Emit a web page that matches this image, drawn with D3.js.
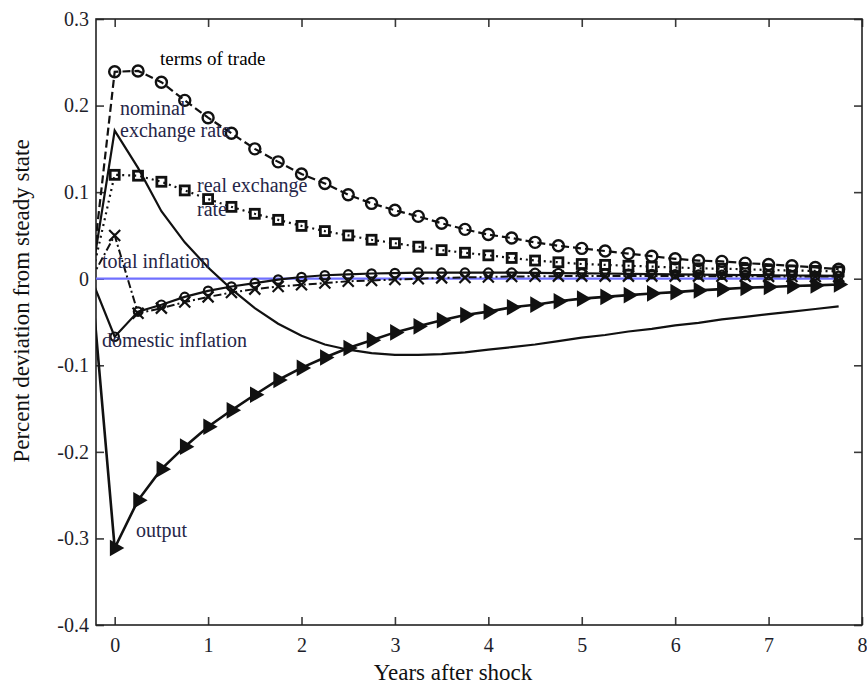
<!DOCTYPE html>
<html>
<head>
<meta charset="utf-8">
<script src="https://cdn.jsdelivr.net/npm/d3@7"></script>
<style>
  html, body { margin: 0; padding: 0; background: #fff; }
  svg { display: block; font-family: "Liberation Serif", "Times New Roman", serif; }
</style>
</head>
<body>
<svg id="chart" width="867" height="686"></svg>
<script>
// ---------------- data ----------------
const years = [-0.25, 0, 0.25, 0.5, 0.75, 1, 1.25, 1.5, 1.75, 2, 2.25, 2.5, 2.75, 3, 3.25, 3.5, 3.75,
  4, 4.25, 4.5, 4.75, 5, 5.25, 5.5, 5.75, 6, 6.25, 6.5, 6.75, 7, 7.25, 7.5, 7.75];

const termsOfTrade = [0, 0.239, 0.240, 0.227, 0.206, 0.186, 0.168, 0.150, 0.135, 0.121, 0.110, 0.097, 0.087,
  0.079, 0.072, 0.064, 0.057, 0.051, 0.047, 0.042, 0.038, 0.035, 0.032, 0.029, 0.026, 0.023, 0.021, 0.020,
  0.018, 0.0165, 0.015, 0.013, 0.011];

const realExchangeRate = [0, 0.120, 0.119, 0.112, 0.102, 0.092, 0.083, 0.075, 0.068, 0.061, 0.055, 0.050,
  0.045, 0.041, 0.037, 0.033, 0.030, 0.027, 0.024, 0.021, 0.019, 0.017, 0.016, 0.015, 0.014, 0.013, 0.012,
  0.0115, 0.011, 0.010, 0.0095, 0.009, 0.0085];

const nominalExchangeRate = [0, 0.171, 0.128, 0.078, 0.042, 0.013, -0.012, -0.034, -0.052, -0.066, -0.076,
  -0.082, -0.086, -0.088, -0.088, -0.087, -0.085, -0.082, -0.079, -0.076, -0.072, -0.068, -0.065, -0.061,
  -0.058, -0.054, -0.051, -0.047, -0.044, -0.041, -0.038, -0.035, -0.032];

const domesticInflation = [0, -0.067, -0.038, -0.030, -0.021, -0.014, -0.009, -0.005, -0.001, 0.002, 0.004,
  0.005, 0.006, 0.0065, 0.007, 0.007, 0.007, 0.007, 0.007, 0.0068, 0.0065, 0.0062, 0.006, 0.0057, 0.0054,
  0.0051, 0.0048, 0.0045, 0.0042, 0.004, 0.0037, 0.0035, 0.0033];

const totalInflation = [0, 0.050, -0.040, -0.034, -0.027, -0.021, -0.016, -0.012, -0.009, -0.007, -0.005,
  -0.003, -0.002, -0.001, 0.000, 0.001, 0.0015, 0.002, 0.0025, 0.0028, 0.003, 0.003, 0.003, 0.003, 0.003,
  0.003, 0.003, 0.0029, 0.0028, 0.0027, 0.0026, 0.0025, 0.0024];

const output = [0, -0.311, -0.256, -0.220, -0.194, -0.171, -0.152, -0.134, -0.117, -0.103, -0.091, -0.080,
  -0.071, -0.062, -0.055, -0.048, -0.042, -0.038, -0.033, -0.030, -0.026, -0.023, -0.021, -0.019, -0.017,
  -0.0155, -0.0135, -0.012, -0.0105, -0.0095, -0.0085, -0.0077, -0.0066];

const baseline = [0, 0];
const baselineYears = [-0.25, 7.75];

const xTickValues = [0, 1, 2, 3, 4, 5, 6, 7, 8];
const xTickLabels = ["0", "1", "2", "3", "4", "5", "6", "7", "8"];
const yTickValues = [-0.4, -0.3, -0.2, -0.1, 0, 0.1, 0.2, 0.3];
const yTickLabels = ["-0.4", "-0.3", "-0.2", "-0.1", "0", "0.1", "0.2", "0.3"];

const annotationTexts = ["terms of trade", "nominal", "exchange rate", "real exchange", "rate",
  "total inflation", "domestic inflation", "output"];
const xTitle = "Years after shock";
const yTitle = "Percent deviation from steady state";

// ---------------- layout ----------------
const L = 96, T = 19, R = 862, B = 625;
const svg = d3.select("#chart");
const x = d3.scaleLinear().domain([-0.2, 8]).range([L, R]);
const y = d3.scaleLinear().domain([-0.4, 0.3]).range([B, T]);

svg.append("defs").append("clipPath").attr("id", "plotclip")
  .append("rect").attr("x", L).attr("y", T).attr("width", R - L).attr("height", B - T);

// axes (inward ticks on all four sides)
const tickColor = "#3a3a3a";
function styleAxis(g) {
  g.attr("font-family", null).attr("font-size", null);
  g.select(".domain").remove();
  g.selectAll(".tick line").attr("stroke", tickColor).attr("stroke-width", 1.6);
  g.selectAll(".tick text").attr("fill", "#1e1e2a")
    .style("font-family", '"Liberation Serif", "Times New Roman", serif').style("font-size", "20px");
}
svg.append("g").attr("transform", `translate(0,${B})`)
  .call(d3.axisBottom(x).tickValues(xTickValues).tickSize(-8).tickPadding(13)
    .tickFormat((d, i) => xTickLabels[i]))
  .call(styleAxis);
svg.append("g").attr("transform", `translate(0,${T})`)
  .call(d3.axisTop(x).tickValues(xTickValues).tickSize(-8).tickFormat(""))
  .call(styleAxis);
svg.append("g").attr("transform", `translate(${L},0)`)
  .call(d3.axisLeft(y).tickValues(yTickValues).tickSize(-8).tickPadding(7)
    .tickFormat((d, i) => yTickLabels[i]))
  .call(styleAxis);
svg.append("g").attr("transform", `translate(${R},0)`)
  .call(d3.axisRight(y).tickValues(yTickValues).tickSize(-8).tickFormat(""))
  .call(styleAxis);

// frame
svg.append("rect").attr("x", L).attr("y", T).attr("width", R - L).attr("height", B - T)
  .attr("fill", "none").attr("stroke", "#222").attr("stroke-width", 1.6);

// plot area
const plot = svg.append("g").attr("clip-path", "url(#plotclip)");

const line = d3.line().x(d => x(d[0])).y(d => y(d[1]));
const pairs = vals => years.map((t, i) => [t, vals[i]]);
const markerPts = vals => pairs(vals).filter(d => d[0] >= 0);

// zero line
plot.append("path").datum(baselineYears.map((t, i) => [t, baseline[i]]))
  .attr("d", line).attr("fill", "none").attr("stroke", "#7070ff").attr("stroke-width", 2.2);

const ink = "#111";

// nominal exchange rate: solid, no markers
plot.append("path").datum(pairs(nominalExchangeRate)).attr("d", line)
  .attr("fill", "none").attr("stroke", ink).attr("stroke-width", 2.2);

// output: solid with right-pointing filled triangles
plot.append("path").datum(pairs(output)).attr("d", line)
  .attr("fill", "none").attr("stroke", ink).attr("stroke-width", 2.6);
const tri = d3.symbol().type(d3.symbolTriangle).size(120);
plot.selectAll(".tri").data(markerPts(output)).enter().append("path")
  .attr("d", tri).attr("transform", d => `translate(${x(d[0])},${y(d[1])}) rotate(90)`)
  .attr("fill", ink);

// terms of trade: dashed with open circles
plot.append("path").datum(pairs(termsOfTrade)).attr("d", line)
  .attr("fill", "none").attr("stroke", ink).attr("stroke-width", 2.2).attr("stroke-dasharray", "8,4");
plot.selectAll(".tot").data(markerPts(termsOfTrade)).enter().append("circle")
  .attr("cx", d => x(d[0])).attr("cy", d => y(d[1])).attr("r", 5.5)
  .attr("fill", "none").attr("stroke", ink).attr("stroke-width", 2.4);

// real exchange rate: dotted with open squares
plot.append("path").datum(pairs(realExchangeRate)).attr("d", line)
  .attr("fill", "none").attr("stroke", ink).attr("stroke-width", 2.2).attr("stroke-dasharray", "2,4");
plot.selectAll(".rer").data(markerPts(realExchangeRate)).enter().append("rect")
  .attr("x", d => x(d[0]) - 4.5).attr("y", d => y(d[1]) - 4.5).attr("width", 9).attr("height", 9)
  .attr("fill", "none").attr("stroke", ink).attr("stroke-width", 2.8);

// total inflation: dash-dot with x markers
plot.append("path").datum(pairs(totalInflation)).attr("d", line)
  .attr("fill", "none").attr("stroke", ink).attr("stroke-width", 2).attr("stroke-dasharray", "8,3,2,3");
plot.selectAll(".tix").data(markerPts(totalInflation)).enter().append("path")
  .attr("d", d => {
    const cx = x(d[0]), cy = y(d[1]), h = 5.5;
    return `M${cx - h},${cy - h}L${cx + h},${cy + h}M${cx - h},${cy + h}L${cx + h},${cy - h}`;
  })
  .attr("fill", "none").attr("stroke", ink).attr("stroke-width", 2.2);

// domestic inflation: solid with small circles
plot.append("path").datum(pairs(domesticInflation)).attr("d", line)
  .attr("fill", "none").attr("stroke", ink).attr("stroke-width", 2.2);
plot.selectAll(".dom").data(markerPts(domesticInflation)).enter().append("circle")
  .attr("cx", d => x(d[0])).attr("cy", d => y(d[1])).attr("r", 4.2)
  .attr("fill", "none").attr("stroke", ink).attr("stroke-width", 2.2);

// annotations
const annPos = [[160, 65], [120, 115], [120, 137], [197, 192], [197, 216], [102, 268], [102, 347], [136, 537]];
const annColor = ["#000", "#262648", "#262648", "#262648", "#262648", "#262648", "#262648", "#262648"];
svg.append("g").selectAll("text").data(annotationTexts).enter().append("text")
  .attr("x", (d, i) => annPos[i][0]).attr("y", (d, i) => annPos[i][1])
  .attr("fill", (d, i) => annColor[i])
  .style("font-size", (d, i) => i === 0 ? "19px" : "20px")
  .text(d => d);

// axis titles
svg.append("text").attr("x", 453).attr("y", 680).attr("text-anchor", "middle")
  .attr("fill", "#111").style("font-size", "23px").text(xTitle);
svg.append("text").attr("transform", "translate(29,301) rotate(-90)").attr("text-anchor", "middle")
  .attr("fill", "#111").style("font-size", "23px").text(yTitle);
</script>
</body>
</html>
